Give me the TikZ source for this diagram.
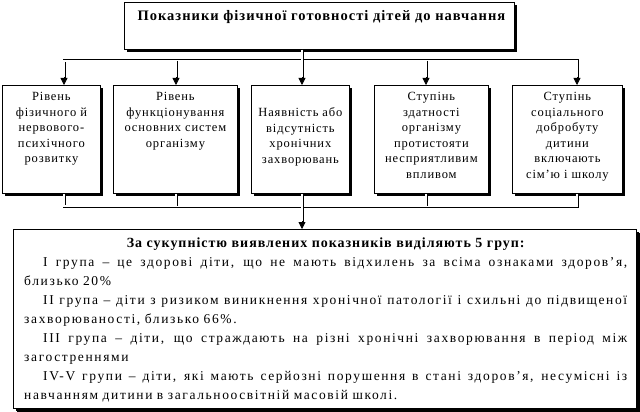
\documentclass[tikz,border=0pt]{standalone}
\usepackage{fontspec}
\setmainfont{Liberation Serif}
\newfontfamily\spacedfont[LetterSpace=7]{Liberation Serif}
\newfontfamily\bodyfont[LetterSpace=12]{Liberation Serif}
\newcommand{\fullline}[1]{\hbox to 584pt{\spaceskip=0.25em plus 1fil minus 0.1em\relax #1}}
\usetikzlibrary{arrows.meta, positioning, shadows, calc}

\begin{document}
\begin{tikzpicture}[x=1pt, y=1pt,
  every node/.style={font=\spacedfont\fontsize{12.5}{15.6}\selectfont},
  >={Triangle[length=7pt, width=7pt]},
  box/.style={draw, fill=white, line width=0.8pt, anchor=north west, inner sep=0pt,
    drop shadow={shadow xshift=3pt, shadow yshift=-3pt, fill=black, opacity=1}},
  boxtext/.style={align=center, inner sep=0pt},
  pipe/.style={double, line width=0.7pt, double distance=1.6pt}]
  \useasboundingbox (0,0) rectangle (640,-412);

  % Headline
  \node[box, minimum width=390, minimum height=47] (top) at (124,-2) {};
  \node[boxtext, font=\spacedfont\bfseries\fontsize{14.5}{17}\selectfont, below=8pt of top.north, xshift=2pt] (toptitle)
    {Показники фізичної готовності дітей до навчання};

  % Indicators
  \node[box, minimum width=98, minimum height=108] (b1) at (2,-85) {};
  \node[box, minimum width=124, minimum height=108] (b2) at (113,-85) {};
  \node[box, minimum width=98, minimum height=108] (b3) at (251,-85) {};
  \node[box, minimum width=114, minimum height=108] (b4) at (374,-85) {};
  \node[box, minimum width=110, minimum height=108] (b5) at (512,-85) {};
  \node[boxtext, below=7pt of b1.north] (t1) {Рівень\\фізичного й\\нервового-\\психічного\\розвитку};
  \node[boxtext, below=7pt of b2.north] (t2) {Рівень\\функціонування\\основних систем\\організму};
  \node[boxtext, below=22.6pt of b3.north] (t3) {Наявність або\\відсутність\\хронічних\\захворювань};
  \node[boxtext, below=7pt of b4.north] (t4) {Ступінь\\здатності\\організму\\протистояти\\несприятливим\\впливом};
  \node[boxtext, below=7pt of b5.north] (t5) {Ступінь\\соціального\\добробуту\\дитини\\включають\\сім’ю і школу};

  % Groups
  \node[box, minimum width=623, minimum height=179,
    drop shadow={shadow xshift=3.5pt, shadow yshift=-3.5pt, fill=black, opacity=1}] (groups) at (13,-229) {};
  \node[anchor=north west, inner sep=0pt, text width=603pt, font=\bodyfont\fontsize{13.5}{19}\selectfont,
    below right=8.5pt and 11pt of groups.north west] (gtext) {%
    {\centering\spacedfont\bfseries\fontsize{14}{19}\selectfont За сукупністю виявлених показників виділяють 5 груп:\par}
    \hspace*{19pt}\fullline{I група – це здорові діти, що не мають відхилень за всіма ознаками здоров’я,}\\
    близько 20\%\par
    \hspace*{19pt}\fullline{II група – діти з ризиком виникнення хронічної патології і схильні до підвищеної}\\
    захворюваності, близько 66\%.\par
    \hspace*{19pt}\fullline{III група – діти, що страждають на різні хронічні захворювання в період між}\\
    загостреннями\par
    \hspace*{19pt}\fullline{IV-V групи – діти, які мають серйозні порушення в стані здоров’я, несумісні із}\\
    навчанням дитини в загальноосвітній масовій школі.};

  % Connectors
  \coordinate (j1) at (64,-61);
  \coordinate (j2) at (176,-61);
  \coordinate (j3) at (302,-61);
  \coordinate (j4) at (426,-61);
  \coordinate (j5) at (577,-61);
  \coordinate (m) at (302,-206);
  \draw[pipe] (top.south -| j3) |- (j1) -- ($(j1 |- b1.north)+(0,7)$);
  \draw[pipe] (top.south -| j3) |- (j5) -- ($(j5 |- b5.north)+(0,7)$);
  \draw[pipe] (j2) -- ($(j2 |- b2.north)+(0,7)$);
  \draw[pipe] (j4) -- ($(j4 |- b4.north)+(0,7)$);
  \draw[pipe] (top.south -| j3) -- ($(j3 |- b3.north)+(0,7)$);
  \draw[pipe] (b1.south -| j1) |- (m);
  \draw[pipe] (b5.south -| j5) |- (m);
  \draw[pipe] (b2.south -| j2) -- (j2 |- m);
  \draw[pipe] (b4.south -| j4) -- (j4 |- m);
  \draw[pipe] (b3.south -| j3) -- ($(groups.north -| m)+(0,7)$);
  \foreach \j/\b in {j1/b1, j2/b2, j3/b3, j4/b4, j5/b5}
    \draw[->, line width=0.8pt] ($(\j |- \b.north)+(0,8)$) -- (\j |- \b.north);
  \draw[->, line width=0.8pt] ($(groups.north -| m)+(0,8)$) -- (groups.north -| m);
\end{tikzpicture}
\end{document}
